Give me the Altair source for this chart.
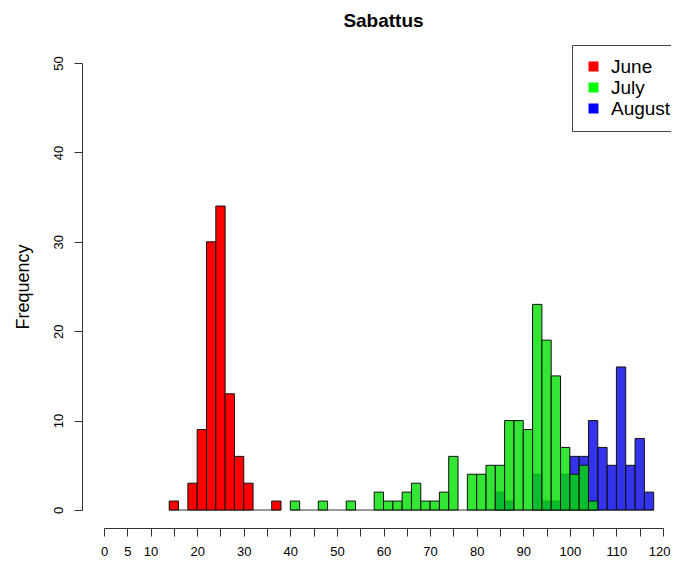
import altair as alt
import pandas as pd

# ---- data ----
title_text = "Sabattus"
months = ["June", "July", "August"]
legend_colors = ["#FF0000", "#00FF00", "#0000FF"]
bar_fills = ["#FF0000", "#00E000", "#0000E6"]
bar_fill_opacity = [1.0, 0.8, 0.8]
bin_width = 2
june_start = 14
june_counts = [1, 0, 3, 9, 30, 34, 13, 6, 3, 0, 0, 1]
july_start = 40
july_counts = [1, 0, 0, 1, 0, 0, 1, 0, 0, 2, 1, 1, 2, 3, 1, 1, 2, 6, 0,
               4, 4, 5, 5, 10, 10, 9, 23, 19, 15, 7, 4, 5, 1]
august_start = 84
august_counts = [2, 1, 0, 0, 4, 1, 1, 4, 6, 6, 10, 7, 5, 16, 5, 8, 2]
x_ticks = list(range(0, 121, 5))
y_ticks = [0, 10, 20, 30, 40, 50]

FONT = "Liberation Sans"

starts = [june_start, july_start, august_start]
counts = [june_counts, july_counts, august_counts]

rows = []
segments = []
for i, m in enumerate(months):
    s0 = starts[i]
    for k, c in enumerate(counts[i]):
        if c > 0:
            rows.append({"month": m, "start": s0 + k * bin_width,
                         "end": s0 + (k + 1) * bin_width, "count": c, "base": 0,
                         "fill": bar_fills[i], "fo": bar_fill_opacity[i]})
    segments.append([s0, s0 + len(counts[i]) * bin_width])

# merge overlapping zero-lines (R draws empty bins as flat outlines)
segments.sort()
merged = []
for a, b in segments:
    if merged and a <= merged[-1][1]:
        merged[-1][1] = max(merged[-1][1], b)
    else:
        merged.append([a, b])
base_df = pd.DataFrame([{"a": a, "b": b, "y": 0} for a, b in merged])
bars_df = pd.DataFrame(rows)
legend_df = pd.DataFrame({"month": months})

x_scale = alt.Scale(domain=[0, 120], nice=False, zero=False)
y_scale = alt.Scale(domain=[0, 50], nice=False)

x_axis = alt.Axis(values=x_ticks, offset=18, tickSize=8, labelPadding=9,
                  labelFontSize=13, labelFont=FONT, labelColor="black",
                  labelOverlap=False, labelFlush=False, labelBound=False,
                  labelAlign={"condition": {"test": "datum.value == 120", "value": "right"},
                              "value": "center"},
                  labelOffset={"condition": {"test": "datum.value == 120", "value": 7},
                               "value": 0},
                  labelExpr="datum.value <= 10 || datum.value % 10 == 0 ? datum.label : ''",
                  domainColor="#333", tickColor="#333", grid=False)
y_axis = alt.Axis(values=y_ticks, offset=22, tickSize=8, labelPadding=12,
                  labelAngle=270, labelAlign="center", labelBaseline="alphabetic",
                  labelFontSize=13, labelFont=FONT, labelColor="black",
                  labelOverlap=False, labelFlush=False, labelBound=False,
                  domainColor="#333", tickColor="#333", grid=False,
                  title="Frequency", titleFont=FONT, titleFontSize=18,
                  titleFontWeight="normal", titleColor="black", titleAngle=270,
                  titleAlign="center", titleBaseline="alphabetic",
                  titleX=-54, titleY=223.5)

baseline = alt.Chart(base_df).mark_rule(color="#333", strokeWidth=1).encode(
    x=alt.X("a:Q", scale=x_scale, axis=x_axis, title=None),
    x2="b:Q",
    y=alt.Y("y:Q", scale=y_scale, axis=y_axis),
)

bars = alt.Chart(bars_df).mark_rect(stroke="#111", strokeWidth=1).encode(
    x=alt.X("start:Q", scale=x_scale, axis=x_axis, title=None),
    x2="end:Q",
    y=alt.Y("count:Q", scale=y_scale, axis=y_axis),
    y2="base:Q",
    fill=alt.Fill("fill:N", scale=None),
    fillOpacity=alt.FillOpacity("fo:Q", scale=None),
    order=alt.Order("month:N"),
)

legend_layer = alt.Chart(legend_df).mark_square(opacity=0, size=1).encode(
    x=alt.value(0),
    y=alt.value(0),
    color=alt.Color("month:N", title=None,
                    scale=alt.Scale(domain=months, range=legend_colors),
                    sort=months,
                    legend=alt.Legend(orient="none", legendX=468, legendY=-18,
                                      symbolType="square", symbolSize=100,
                                      symbolOpacity=1, symbolStrokeWidth=0,
                                      labelFont=FONT, labelFontSize=19,
                                      labelColor="black", labelOffset=8,
                                      rowPadding=1, padding=12,
                                      strokeColor="#444", fillColor="white")),
)

chart = alt.layer(baseline, bars, legend_layer).properties(
    width=559, height=447,
    autosize=alt.AutoSizeParams(type="none"),
    padding={"left": 96, "top": 55, "right": 8, "bottom": 48},
    title=alt.TitleParams(text=title_text, font=FONT, fontSize=19,
                          fontWeight="bold", color="black", anchor="middle",
                          offset=14),
).configure(background="white", view=alt.ViewConfig(stroke=None))

chart.save("out.html", embed_options={"renderer": "svg", "actions": False})
